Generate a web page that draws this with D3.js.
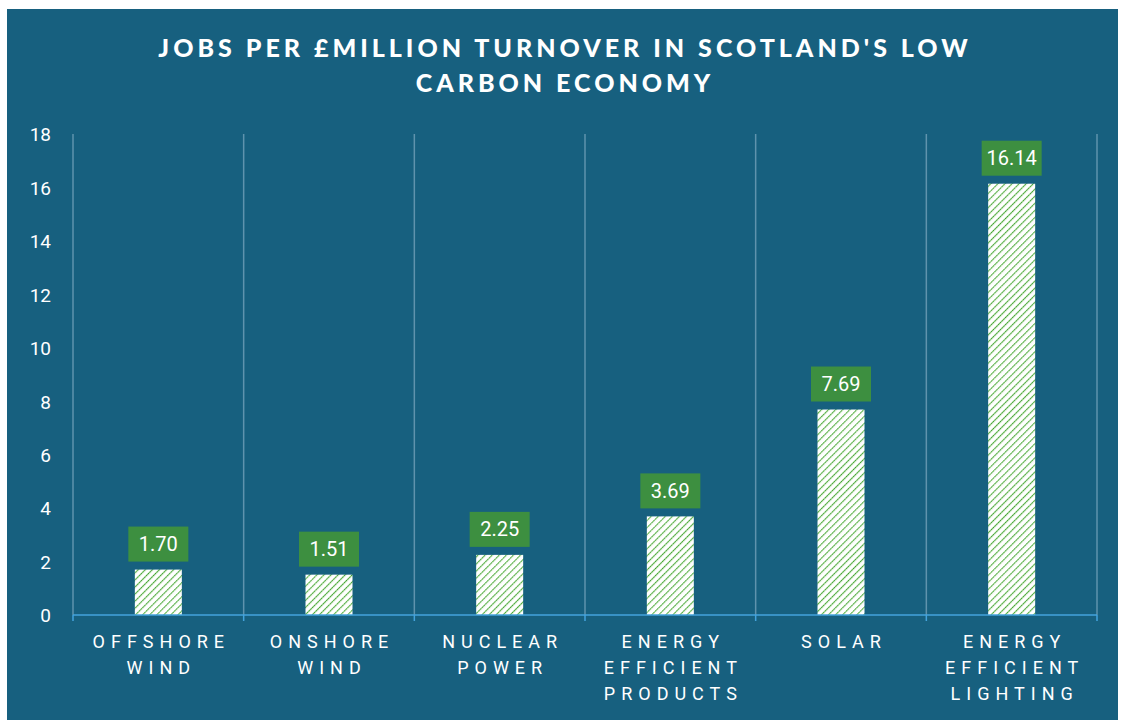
<!DOCTYPE html>
<html>
<head>
<meta charset="utf-8">
<script src="https://cdn.jsdelivr.net/npm/d3@7"></script>
<style>
  html, body { margin: 0; padding: 0; background: #ffffff; }
  svg { display: block; }
</style>
</head>
<body>
<svg id="chart" width="1121" height="720"></svg>
<script>
// Jobs per £million turnover, by sector
const categories = [
  ["OFFSHORE", "WIND"],
  ["ONSHORE", "WIND"],
  ["NUCLEAR", "POWER"],
  ["ENERGY", "EFFICIENT", "PRODUCTS"],
  ["SOLAR"],
  ["ENERGY", "EFFICIENT", "LIGHTING"]
];
const values = [1.70, 1.51, 2.25, 3.69, 7.69, 16.14];
const yTicks = [0, 2, 4, 6, 8, 10, 12, 14, 16, 18];
const titleLines = ["JOBS PER £MILLION TURNOVER IN SCOTLAND'S LOW", "CARBON ECONOMY"];

const svg = d3.select("#chart");
const bg = "#17607f";

svg.append("rect").attr("x", 7).attr("y", 9).attr("width", 1111).attr("height", 711).attr("fill", bg);

// hatched fill for the bars
const defs = svg.append("defs");
const pat = defs.append("pattern")
  .attr("id", "hatch").attr("patternUnits", "userSpaceOnUse")
  .attr("width", 5).attr("height", 5)
  .attr("patternTransform", "rotate(45)");
pat.append("rect").attr("width", 5).attr("height", 5).attr("fill", "#ffffff");
pat.append("line").attr("x1", 0).attr("y1", 0).attr("x2", 0).attr("y2", 5)
  .attr("stroke", "#8fd07a").attr("stroke-width", 2.2);
pat.append("line").attr("x1", 0).attr("y1", 0).attr("x2", 0).attr("y2", 5)
  .attr("stroke", "#3e9f2e").attr("stroke-width", 2.2).attr("stroke-dasharray", "1.5 1");

const margin = { left: 73, right: 1097, top: 134, bottom: 615 };
const x = d3.scaleBand().domain(d3.range(categories.length)).range([margin.left, margin.right]).padding(0);
const y = d3.scaleLinear().domain([0, 18]).range([margin.bottom, margin.top]);

// title
svg.append("g").selectAll("text").data(titleLines).join("text")
  .attr("x", 565).attr("y", (d, i) => 57 + i * 35)
  .attr("text-anchor", "middle")
  .attr("fill", "#ffffff")
  .attr("font-family", "Lato, 'Open Sans', sans-serif")
  .attr("font-weight", 900)
  .attr("font-size", 25)
  .attr("letter-spacing", 4)
  .text(d => d);

// vertical separators between categories
const bounds = d3.range(categories.length + 1).map(i => i < categories.length ? x(i) : x(categories.length - 1) + x.bandwidth());
svg.append("g").selectAll("line").data(bounds).join("line")
  .attr("x1", d => d).attr("x2", d => d)
  .attr("y1", y(18)).attr("y2", y(0))
  .attr("stroke", "#5f93ad").attr("stroke-width", 1.5);

// y axis labels
const yAxis = d3.axisLeft(y).tickValues(yTicks).tickSize(0).tickPadding(0);
const gy = svg.append("g").attr("transform", "translate(51,0)").call(yAxis);
gy.select(".domain").remove();
gy.selectAll("text")
  .attr("fill", "#ffffff")
  .attr("font-family", "Roboto, 'Open Sans', sans-serif")
  .attr("font-size", 19)
  .attr("dy", "0.36em");

// bars
const barW = 47;
svg.append("g").selectAll("rect").data(values).join("rect")
  .attr("x", (d, i) => x(i) + x.bandwidth() / 2 - barW / 2)
  .attr("y", d => y(d))
  .attr("width", barW)
  .attr("height", d => y(0) - y(d))
  .attr("fill", "url(#hatch)");

// x axis baseline with ticks
const gx = svg.append("g");
gx.append("line").attr("x1", margin.left).attr("x2", margin.right)
  .attr("y1", y(0)).attr("y2", y(0))
  .attr("stroke", "#45a3dc").attr("stroke-width", 1.5);
gx.selectAll("line.tick").data(bounds).join("line").attr("class", "tick")
  .attr("x1", d => d).attr("x2", d => d)
  .attr("y1", y(0)).attr("y2", y(0) + 6)
  .attr("stroke", "#45a3dc").attr("stroke-width", 1.5);

// category labels
const cat = svg.append("g").selectAll("g").data(categories).join("g")
  .attr("transform", (d, i) => `translate(${x(i) + x.bandwidth() / 2},0)`);
cat.selectAll("text").data(d => d).join("text")
  .attr("x", 3)
  .attr("y", (d, j) => 648 + j * 26)
  .attr("text-anchor", "middle")
  .attr("fill", "#ffffff")
  .attr("font-family", "Roboto, 'Open Sans', sans-serif")
  .attr("font-size", 18)
  .attr("letter-spacing", 6)
  .text(d => d);

// value labels
const lab = svg.append("g").selectAll("g").data(values).join("g")
  .attr("transform", (d, i) => `translate(${x(i) + x.bandwidth() / 2},${y(d) - 8})`);
lab.append("rect")
  .attr("x", -30).attr("y", -35).attr("width", 60).attr("height", 35)
  .attr("fill", "#3d8f40");
lab.append("text")
  .attr("x", 0).attr("y", -10.5)
  .attr("text-anchor", "middle")
  .attr("fill", "#ffffff")
  .attr("font-family", "Roboto, 'Open Sans', sans-serif")
  .attr("font-size", 20)
  .text(d => d.toFixed(2));
</script>
</body>
</html>
